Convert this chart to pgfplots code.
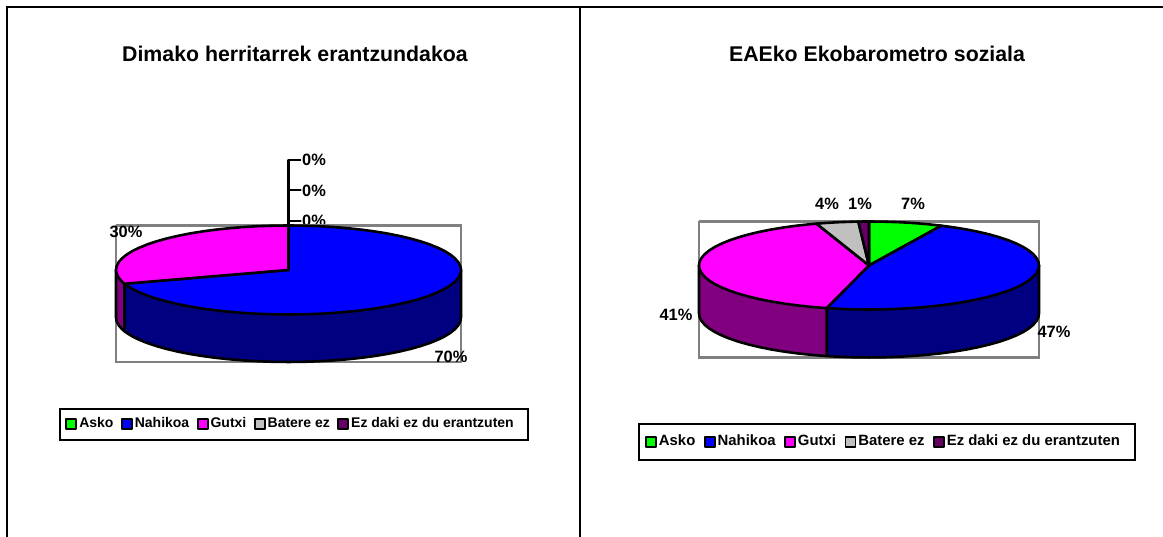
\documentclass[border=0pt]{standalone}
\usepackage{fontspec}
\setmainfont{Liberation Sans}
\usepackage{pgfplots}
\usepackage{pgfplotstable}
\pgfplotsset{compat=1.18}
\definecolor{cGreen}{HTML}{00FF00}
\definecolor{cBlue}{HTML}{0000FF}
\definecolor{cMag}{HTML}{FF00FF}
\definecolor{cGray}{HTML}{C0C0C0}
\definecolor{cPur}{HTML}{660066}
\definecolor{cDkBlue}{HTML}{000080}
\definecolor{cWall}{HTML}{800080}
\definecolor{cRect}{HTML}{808080}
% walls: x, y on the unit ellipse; z=1 means lowered by the depth of the pie
\pgfplotstableread{
x y z
-.9511 -.3090 1
-.9397 -.3420 1
-.9063 -.4226 1
-.8660 -.5 1
-.8192 -.5736 1
-.7660 -.6428 1
-.7071 -.7071 1
-.6428 -.7660 1
-.5736 -.8192 1
-.5 -.8660 1
-.4226 -.9063 1
-.3420 -.9397 1
-.2588 -.9659 1
-.1736 -.9848 1
-.0872 -.9962 1
0 -1 1
.0872 -.9962 1
.1736 -.9848 1
.2588 -.9659 1
.3420 -.9397 1
.4226 -.9063 1
.5 -.8660 1
.5736 -.8192 1
.6428 -.7660 1
.7071 -.7071 1
.7660 -.6428 1
.8192 -.5736 1
.8660 -.5 1
.9063 -.4226 1
.9397 -.3420 1
.9659 -.2588 1
.9848 -.1736 1
.9962 -.0872 1
1 0 1
1 0 0
-.9511 -.3090 0
}\wallLeftBlue
\pgfplotstableread{
x y z
-1 0 1
-.9962 -.0872 1
-.9848 -.1736 1
-.9659 -.2588 1
-.9511 -.3090 1
-.9511 -.3090 0
-1 0 0
}\wallLeftPur
\pgfplotstableread{
x y z
-.2487 -.9686 1
-.1736 -.9848 1
-.0872 -.9962 1
0 -1 1
.0872 -.9962 1
.1736 -.9848 1
.2588 -.9659 1
.3420 -.9397 1
.4226 -.9063 1
.5 -.8660 1
.5736 -.8192 1
.6428 -.7660 1
.7071 -.7071 1
.7660 -.6428 1
.8192 -.5736 1
.8660 -.5 1
.9063 -.4226 1
.9397 -.3420 1
.9659 -.2588 1
.9848 -.1736 1
.9962 -.0872 1
1 0 1
1 0 0
-.2487 -.9686 0
}\wallRightBlue
\pgfplotstableread{
x y z
-1 0 1
-.9962 -.0872 1
-.9848 -.1736 1
-.9659 -.2588 1
-.9397 -.3420 1
-.9063 -.4226 1
-.8660 -.5 1
-.8192 -.5736 1
-.7660 -.6428 1
-.7071 -.7071 1
-.6428 -.7660 1
-.5736 -.8192 1
-.5 -.8660 1
-.4226 -.9063 1
-.3420 -.9397 1
-.2588 -.9659 1
-.2487 -.9686 1
-.2487 -.9686 0
-1 0 0
}\wallRightPur
\newcommand\fs[1]{\fontsize{#1}{#1}\selectfont\bfseries}
\newcommand\lab[3]{\node[font=\fs{16.4},inner sep=0pt] at ({#1pt},{(537-#2)*1pt}) {#3\%};}
\pgfplotsset{pie/.style={
  hide axis, scale only axis, clip=false, anchor=south west,
  xmin=-1,xmax=1,ymin=-1,ymax=1,
  every axis plot/.append style={line width=2.6pt,line join=round},
  legend columns=5,
  legend style={draw=none,fill=none,inner sep=0pt,anchor=north west,
    nodes={inner sep=2pt,text height=.75em,text depth=.15em}},
  legend image code/.code={\draw[##1,line width=1.8pt,line join=round] (0pt,-4.5pt) rectangle (10pt,5.5pt);}
}}
\begin{document}
\begin{tikzpicture}[x=1pt,y=1pt]
\path[use as bounding box] (0,0) rectangle (1163,537);
\fill[white] (0,0) rectangle (1163,537);
\draw[line width=2pt] (6.5,0) -- (6.5,529.5) -- (1163,529.5);
\draw[line width=2pt] (580,0) -- (580,529.5);
\node[font=\fs{21.3}] at (295,483.5) {Dimako herritarrek erantzundakoa};
\node[font=\fs{21.3}] at (877,483.5) {EAEko Ekobarometro soziala};
% labels that lie behind the pie
\node[font=\fs{16.4},inner sep=0pt,anchor=west] at (302,377) {0\%};
\node[font=\fs{16.4},inner sep=0pt,anchor=west] at (302,346.5) {0\%};
\node[font=\fs{16.4},inner sep=0pt,anchor=west] at (302,316) {0\%};
% legend boxes
\draw[line width=2.4pt] (60,97) rectangle (528,128);
\draw[line width=2.4pt] (639,77) rectangle (1135,113);

\begin{axis}[pie,at={(116pt,222.5pt)},width=345pt,height=89pt,
  legend style={at={(axis cs:-1.294,-3.32)},font=\fs{14},
    /tikz/every even column/.append style={column sep=5.5pt}}]
\addlegendimage{draw=black,fill=cGreen}\addlegendentry{Asko}
\addlegendimage{draw=black,fill=cBlue}\addlegendentry{Nahikoa}
\addlegendimage{draw=black,fill=cMag}\addlegendentry{Gutxi}
\addlegendimage{draw=black,fill=cGray}\addlegendentry{Batere ez}
\addlegendimage{draw=black,fill=cPur}\addlegendentry{Ez daki ez du erantzuten}
\addplot[draw=cRect,line width=2.6pt,line join=miter] coordinates {(-1,1)(1,1)(1,-2.067)(-1,-2.067)(-1,1)};
\addplot[draw=black,line width=2.4pt] coordinates {(.07,2.47)(0,2.47)(0,1.8)(.07,1.8)(0,1.8)(0,1.1)(.07,1.1)(0,1.1)(0,1)};
\addplot[draw=black,fill=cDkBlue] table[y expr=\thisrow{y}-\thisrow{z}*1.067] {\wallLeftBlue} -- cycle;
\addplot[draw=black,fill=cWall] table[y expr=\thisrow{y}-\thisrow{z}*1.067] {\wallLeftPur} -- cycle;
% Nahikoa 70%
\addplot[draw=black,fill=cBlue] coordinates {(0,0)(0,1)(.0872,.9962)(.1736,.9848)(.2588,.9659)(.3420,.9397)(.4226,.9063)(.5,.8660)(.5736,.8192)(.6428,.7660)(.7071,.7071)(.7660,.6428)(.8192,.5736)(.8660,.5)(.9063,.4226)(.9397,.3420)(.9659,.2588)(.9848,.1736)(.9962,.0872)(1,0)(.9962,-.0872)(.9848,-.1736)(.9659,-.2588)(.9397,-.3420)(.9063,-.4226)(.8660,-.5)(.8192,-.5736)(.7660,-.6428)(.7071,-.7071)(.6428,-.7660)(.5736,-.8192)(.5,-.8660)(.4226,-.9063)(.3420,-.9397)(.2588,-.9659)(.1736,-.9848)(.0872,-.9962)(0,-1)(-.0872,-.9962)(-.1736,-.9848)(-.2588,-.9659)(-.3420,-.9397)(-.4226,-.9063)(-.5,-.8660)(-.5736,-.8192)(-.6428,-.7660)(-.7071,-.7071)(-.7660,-.6428)(-.8192,-.5736)(-.8660,-.5)(-.9063,-.4226)(-.9397,-.3420)(-.9511,-.3090)} -- cycle;
% Gutxi 30%
\addplot[draw=black,fill=cMag] coordinates {(0,0)(-.9511,-.3090)(-.9659,-.2588)(-.9848,-.1736)(-.9962,-.0872)(-1,0)(-.9962,.0872)(-.9848,.1736)(-.9659,.2588)(-.9397,.3420)(-.9063,.4226)(-.8660,.5)(-.8192,.5736)(-.7660,.6428)(-.7071,.7071)(-.6428,.7660)(-.5736,.8192)(-.5,.8660)(-.4226,.9063)(-.3420,.9397)(-.2588,.9659)(-.1736,.9848)(-.0872,.9962)(0,1)} -- cycle;
\end{axis}

\begin{axis}[pie,at={(699pt,227.5pt)},width=340pt,height=88pt,
  legend style={at={(axis cs:-1.318,-3.87)},font=\fs{14.9},
    /tikz/every even column/.append style={column sep=6.5pt}}]
\addlegendimage{draw=black,fill=cGreen}\addlegendentry{Asko}
\addlegendimage{draw=black,fill=cBlue}\addlegendentry{Nahikoa}
\addlegendimage{draw=black,fill=cMag}\addlegendentry{Gutxi}
\addlegendimage{draw=black,fill=cGray}\addlegendentry{Batere ez}
\addlegendimage{draw=black,fill=cPur}\addlegendentry{Ez daki ez du erantzuten}
\addplot[draw=cRect,line width=2.6pt,line join=miter] coordinates {(-1,1)(1,1)(1,-2.09)(-1,-2.09)(-1,1)};
\addplot[draw=black,fill=cDkBlue] table[y expr=\thisrow{y}-\thisrow{z}*1.09] {\wallRightBlue} -- cycle;
\addplot[draw=black,fill=cWall] table[y expr=\thisrow{y}-\thisrow{z}*1.09] {\wallRightPur} -- cycle;
% Asko 7%
\addplot[draw=black,fill=cGreen] coordinates {(0,0)(0,1)(.0872,.9962)(.1736,.9848)(.2588,.9659)(.3420,.9397)(.4226,.9063)(.4258,.9048)} -- cycle;
% Nahikoa 47%
\addplot[draw=black,fill=cBlue] coordinates {(0,0)(.4258,.9048)(.5,.8660)(.5736,.8192)(.6428,.7660)(.7071,.7071)(.7660,.6428)(.8192,.5736)(.8660,.5)(.9063,.4226)(.9397,.3420)(.9659,.2588)(.9848,.1736)(.9962,.0872)(1,0)(.9962,-.0872)(.9848,-.1736)(.9659,-.2588)(.9397,-.3420)(.9063,-.4226)(.8660,-.5)(.8192,-.5736)(.7660,-.6428)(.7071,-.7071)(.6428,-.7660)(.5736,-.8192)(.5,-.8660)(.4226,-.9063)(.3420,-.9397)(.2588,-.9659)(.1736,-.9848)(.0872,-.9962)(0,-1)(-.0872,-.9962)(-.1736,-.9848)(-.2487,-.9686)} -- cycle;
% Gutxi 41%
\addplot[draw=black,fill=cMag] coordinates {(0,0)(-.2487,-.9686)(-.2588,-.9659)(-.3420,-.9397)(-.4226,-.9063)(-.5,-.8660)(-.5736,-.8192)(-.6428,-.7660)(-.7071,-.7071)(-.7660,-.6428)(-.8192,-.5736)(-.8660,-.5)(-.9063,-.4226)(-.9397,-.3420)(-.9659,-.2588)(-.9848,-.1736)(-.9962,-.0872)(-1,0)(-.9962,.0872)(-.9848,.1736)(-.9659,.2588)(-.9397,.3420)(-.9063,.4226)(-.8660,.5)(-.8192,.5736)(-.7660,.6428)(-.7071,.7071)(-.6428,.7660)(-.5736,.8192)(-.5,.8660)(-.4226,.9063)(-.3420,.9397)(-.3090,.9511)} -- cycle;
% Batere ez 4%
\addplot[draw=black,fill=cGray] coordinates {(0,0)(-.3090,.9511)(-.2588,.9659)(-.1736,.9848)(-.0872,.9962)(-.0628,.9980)} -- cycle;
% Ez daki 1%
\addplot[draw=black,fill=cPur] coordinates {(0,0)(-.0628,.9980)(0,1)} -- cycle;
\end{axis}
\lab{126}{232}{30}
\lab{451}{357}{70}
\lab{827}{204}{4}
\lab{860}{204}{1}
\lab{913}{204}{7}
\lab{676}{315}{41}
\lab{1054}{332}{47}
\end{tikzpicture}
\end{document}
